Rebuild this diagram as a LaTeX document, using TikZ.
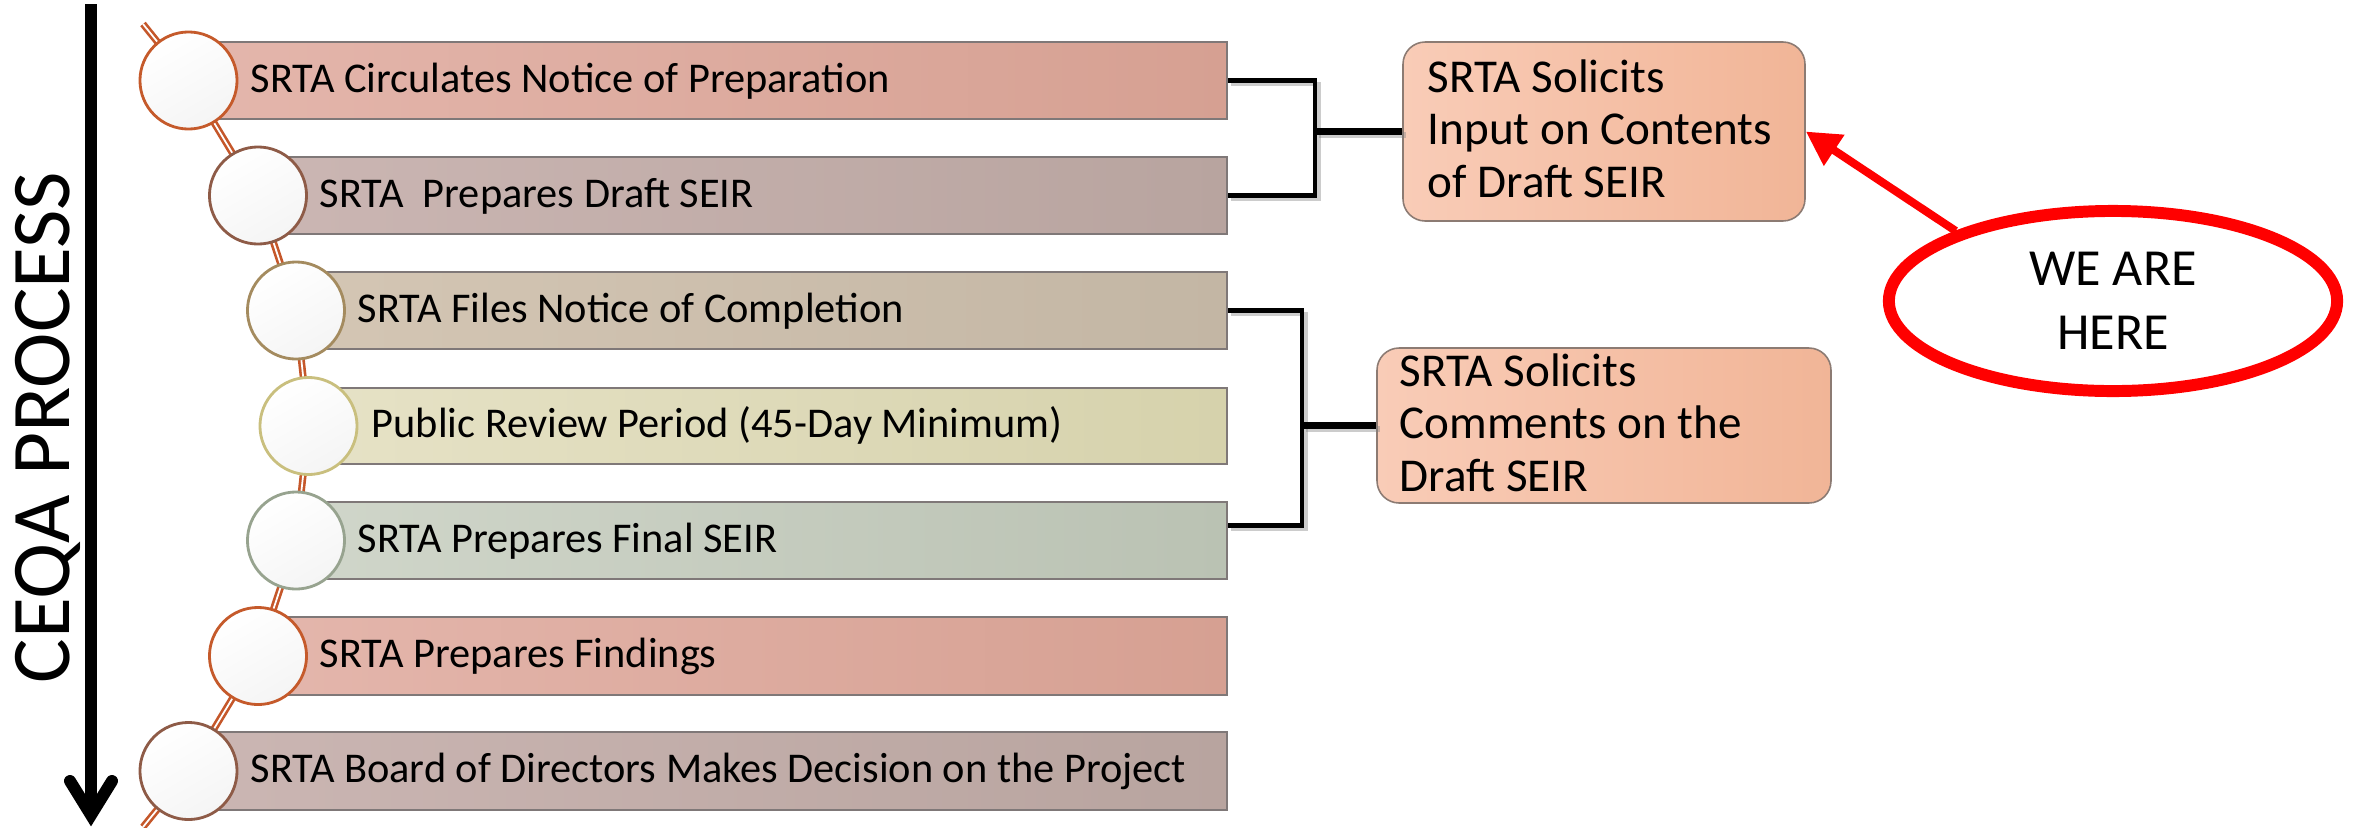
\documentclass[tikz,border=0pt]{standalone}
\usepackage{fontspec}
\setmainfont{Carlito}
\usetikzlibrary{fit,shapes.geometric,arrows.meta,calc}
\definecolor{pinkL}{HTML}{E4B6AC}
\definecolor{pinkR}{HTML}{D6A092}
\definecolor{mauveL}{HTML}{CBB6B3}
\definecolor{mauveR}{HTML}{B8A49F}
\definecolor{tanL}{HTML}{D4C6B4}
\definecolor{tanR}{HTML}{C3B6A4}
\definecolor{yelL}{HTML}{E6E2C6}
\definecolor{yelR}{HTML}{D6D2AC}
\definecolor{sageL}{HTML}{D0D6CA}
\definecolor{sageR}{HTML}{BAC2B3}
\definecolor{peachL}{HTML}{F9CCB7}
\definecolor{peachR}{HTML}{F1B597}
\definecolor{barline}{HTML}{7F7878}
\definecolor{boxline}{HTML}{8C7B73}
\definecolor{ringA}{HTML}{C55A2B}
\definecolor{ringB}{HTML}{8E5B47}
\definecolor{ringC}{HTML}{A48B5F}
\definecolor{ringD}{HTML}{C9BF7E}
\definecolor{ringE}{HTML}{97A38F}
\definecolor{chainc}{HTML}{C5572A}
\begin{document}
\begin{tikzpicture}[x=0.01cm,y=-0.01cm,
  bar/.style={draw=barline, line width=0.45pt, inner sep=0pt},
  barlabel/.style={anchor=base west, inner sep=0pt, font=\fontsize{12.05pt}{14pt}\selectfont},
  dot/.style={circle, minimum size=0.97cm, inner sep=0pt, line width=0.8pt, shading=axis, top color=white, bottom color=white!96!black, shading angle=30},
  chain/.style={draw=chainc, line width=0.75pt, double=white, double distance=0.5pt, line join=round},
  bracket/.style={draw=black, line width=1.35pt, line join=miter},
  midline/.style={draw=black, line width=1.9pt},
  shadowline/.style={draw=black!50, opacity=0.4, transform canvas={shift={(0.035cm,-0.035cm)}}},
  infobox/.style={draw=boxline, line width=0.45pt, rounded corners=6.3pt, inner sep=0pt, left color=peachL, right color=peachR},
  boxlabel/.style={anchor=base west, align=left, inner sep=0pt, font=\fontsize{13.4pt}{14.8pt}\selectfont},
  herering/.style={ellipse, draw=red, line width=3.4pt, minimum width=4.48cm, minimum height=1.8cm, inner sep=0pt, align=center, font=\fontsize{14.8pt}{18.2pt}\selectfont},
  ptr/.style={draw=red, line width=2.3pt, -{Triangle[length=9.7pt,width=10pt]}},
  bigarrow/.style={draw=black, line width=3.4pt}
]
\useasboundingbox (0,0) rectangle (2354,827);

% chain coordinates
\coordinate (p0) at (143,24);
\coordinate (p1) at (188.5,80.5);
\coordinate (p2) at (258,195.5);
\coordinate (p3) at (296,310.5);
\coordinate (p4) at (308.5,426);
\coordinate (p5) at (296,540.5);
\coordinate (p6) at (258,656);
\coordinate (p7) at (188.5,771);
\coordinate (p8) at (143,827);
\draw[chain] (p0) -- (p1) -- (p2) -- (p3) -- (p4) -- (p5) -- (p6) -- (p7) -- (p8);

% bars
\node[bar, left color=pinkL, right color=pinkR, fit={(188.5,42) (1227,119)}] (b1) {};
\node[bar, left color=mauveL, right color=mauveR, fit={(258,157) (1227,234)}] (b2) {};
\node[bar, left color=tanL, right color=tanR, fit={(296,272) (1227,349)}] (b3) {};
\node[bar, left color=yelL, right color=yelR, fit={(308.5,388) (1227,464)}] (b4) {};
\node[bar, left color=sageL, right color=sageR, fit={(296,502) (1227,579)}] (b5) {};
\node[bar, left color=pinkL, right color=pinkR, fit={(258,617) (1227,695)}] (b6) {};
\node[bar, left color=mauveL, right color=mauveR, fit={(188.5,732) (1227,810)}] (b7) {};

% circles
\node[dot, draw=ringA] (c1) at (p1) {};
\node[dot, draw=ringB] (c2) at (p2) {};
\node[dot, draw=ringC] (c3) at (p3) {};
\node[dot, draw=ringD] (c4) at (p4) {};
\node[dot, draw=ringE] (c5) at (p5) {};
\node[dot, draw=ringA] (c6) at (p6) {};
\node[dot, draw=ringB] (c7) at (p7) {};

% bar labels
\node[barlabel] (t1) at (250,92) {SRTA Circulates Notice of Preparation};
\node[barlabel] (t2) at (319,207) {SRTA\ \ Prepares Draft SEIR};
\node[barlabel] (t3) at (357,322) {SRTA Files Notice of Completion};
\node[barlabel] (t4) at (371,437.5) {Public Review Period (45-Day Minimum)};
\node[barlabel] (t5) at (357,552) {SRTA Prepares Final SEIR};
\node[barlabel] (t6) at (319,667.5) {SRTA Prepares Findings};
\node[barlabel] (t7) at (250,782.5) {SRTA Board of Directors Makes Decision on the Project};

% info boxes
\node[infobox, fit={(1403,42) (1805,221)}] (s1) {};
\node[boxlabel] (s1t) at (1427,197) {SRTA Solicits\\Input on Contents\\of Draft SEIR};
\node[infobox, fit={(1377,348) (1831,503)}] (s2) {};
\node[boxlabel] (s2t) at (1399,491) {SRTA Solicits\\Comments on the\\Draft SEIR};

% brackets
\coordinate (j1) at (1315,131.5);
\coordinate (j2) at (1302,425.5);
\coordinate (b5hit) at ($(b5.north east)!0.31!(b5.south east)$);
\draw[bracket, shadowline] (b1.east) -| (j1) |- (b2.east);
\draw[midline, shadowline] (j1) -- (s1.west);
\draw[bracket, shadowline] (b3.east) -| (j2) |- (b5hit);
\draw[midline, shadowline] (j2) -- (s2.west);
\draw[bracket] (b1.east) -| (j1) |- (b2.east);
\draw[midline] (j1) -- (s1.west);
\draw[bracket] (b3.east) -| (j2) |- (b5hit);
\draw[midline] (j2) -- (s2.west);

% we are here
\node[herering] (we) at (2113,301) {WE ARE\\HERE};
\draw[ptr] (we.156) -- (s1.east);

% process arrow
\coordinate (atop) at (91,4);
\coordinate (atip) at (91,815);
\coordinate (barbL) at (70,781);
\coordinate (barbR) at (112,781);
\draw[bigarrow] (atop) -- (atip);
\draw[bigarrow, line cap=round, line join=miter] (barbL) -- (atip) -- (barbR);
\node[rotate=90, anchor=base, inner sep=0pt, font=\fontsize{23.75pt}{28pt}\selectfont] (ceqa) at (70,427.5) {CEQA PROCESS};
\end{tikzpicture}
\end{document}
